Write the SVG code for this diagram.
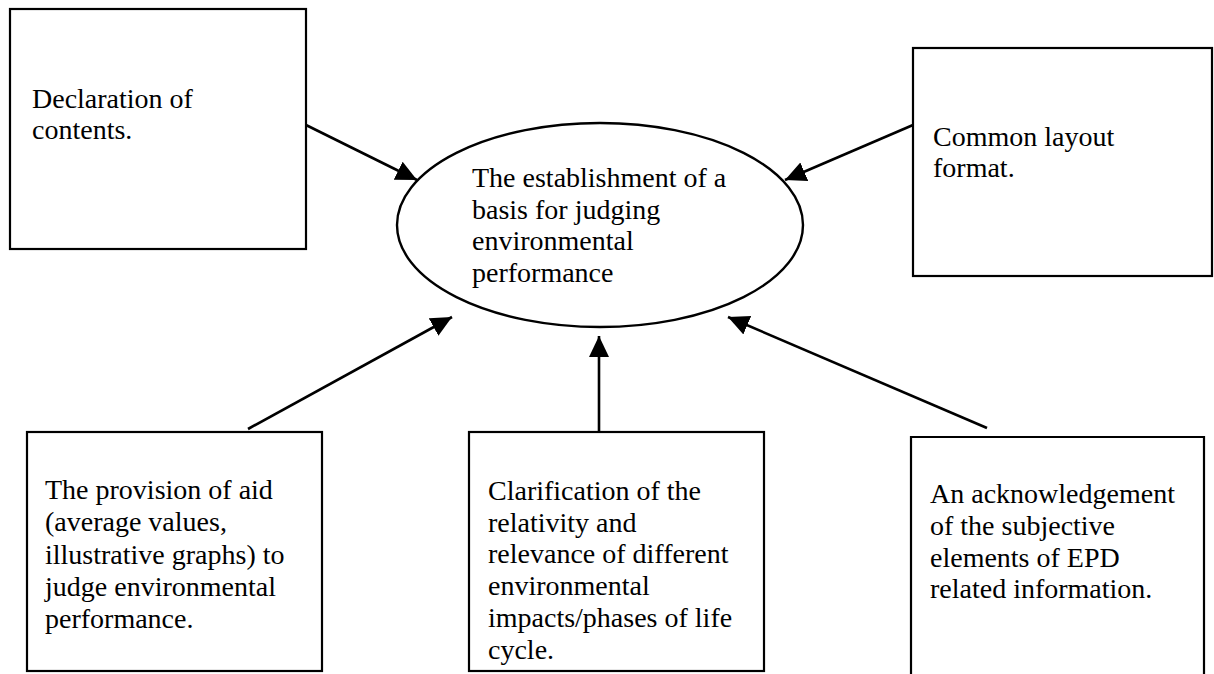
<svg xmlns="http://www.w3.org/2000/svg" width="1214" height="674" viewBox="0 0 1214 674">
<style>
.box{fill:#fff;stroke:#000;stroke-width:2.2}
.ell{fill:#fff;stroke:#000;stroke-width:2.4}
.lbl{font-family:"Liberation Serif","Times New Roman",serif;font-size:28px;fill:#000}
.conn{stroke:#000;stroke-width:2.6;fill:none;marker-end:url(#ah)}
</style>
<defs>
<marker id="ah" markerUnits="userSpaceOnUse" markerWidth="22" markerHeight="22" refX="21" refY="10" orient="auto">
<path d="M0,0 L21,10 L0,20 z" fill="#000"/>
</marker>
</defs>
<rect width="1214" height="674" fill="#fff"/>
<g id="connectors">
<line class="conn" x1="306" y1="125" x2="417" y2="180"/>
<line class="conn" x1="913" y1="125" x2="785" y2="180"/>
<line class="conn" x1="248" y1="429" x2="452" y2="317"/>
<line class="conn" x1="599" y1="432" x2="599" y2="336"/>
<line class="conn" x1="987" y1="428" x2="728" y2="317"/>
</g>
<g id="center">
<ellipse class="ell" cx="600" cy="225" rx="203" ry="102"/>
<text class="lbl" x="472"><tspan x="472" y="187">The establishment of a</tspan><tspan x="472" y="218.5">basis for judging</tspan><tspan x="472" y="250">environmental</tspan><tspan x="472" y="281.5">performance</tspan></text>
</g>
<g id="declaration">
<rect class="box" x="10" y="9" width="296" height="240"/>
<text class="lbl"><tspan x="32" y="108">Declaration of</tspan><tspan x="32" y="139">contents.</tspan></text>
</g>
<g id="layout">
<rect class="box" x="913" y="48" width="299" height="228"/>
<text class="lbl"><tspan x="933" y="146">Common layout</tspan><tspan x="933" y="177">format.</tspan></text>
</g>
<g id="provision">
<rect class="box" x="27" y="432" width="295" height="239"/>
<text class="lbl"><tspan x="45" y="499">The provision of aid</tspan><tspan x="45" y="531.3">(average values,</tspan><tspan x="45" y="563.6">illustrative graphs) to</tspan><tspan x="45" y="595.9">judge environmental</tspan><tspan x="45" y="628.2">performance.</tspan></text>
</g>
<g id="clarification">
<rect class="box" x="469" y="432" width="295" height="239"/>
<text class="lbl"><tspan x="488" y="500">Clarification of the</tspan><tspan x="488" y="531.7">relativity and</tspan><tspan x="488" y="563.4">relevance of different</tspan><tspan x="488" y="595.1">environmental</tspan><tspan x="488" y="626.8">impacts/phases of life</tspan><tspan x="488" y="658.5">cycle.</tspan></text>
</g>
<g id="acknowledgement">
<path class="box" d="M911,680 L911,437 L1204,437 L1204,680"/>
<text class="lbl"><tspan x="930" y="503">An acknowledgement</tspan><tspan x="930" y="535">of the subjective</tspan><tspan x="930" y="566.5">elements of EPD</tspan><tspan x="930" y="598">related information.</tspan></text>
</g>
</svg>
